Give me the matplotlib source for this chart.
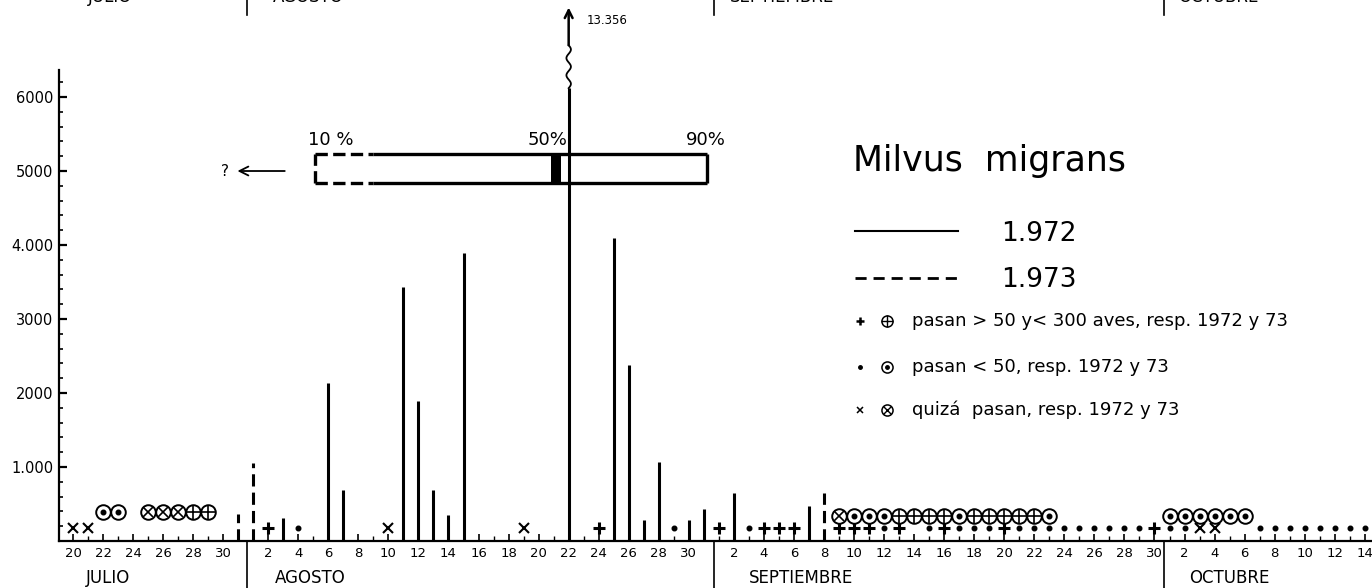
import numpy as np
import matplotlib
matplotlib.use('Agg')
from matplotlib import pyplot as plt
from matplotlib.ticker import MultipleLocator

# dia de campaña: julio d -> d, agosto -> 31 + d, septiembre -> 62 + d, octubre -> 92 + d
INICIO_MES = {'jul': 0, 'ago': 31, 'sep': 62, 'oct': 92}


def dia(mes, d):
    return INICIO_MES[mes] + d


def dias(lista):
    return [dia(m, d) for m, d in lista]


# barras 1972 (linea continua)
barras_1972 = [('ago', 3), ('ago', 6), ('ago', 7), ('ago', 11), ('ago', 12), ('ago', 13),
               ('ago', 14), ('ago', 15), ('ago', 22), ('ago', 25), ('ago', 26), ('ago', 27),
               ('ago', 28), ('ago', 30), ('ago', 31), ('sep', 2), ('sep', 7)]
aves_1972 = [310, 2130, 690, 3430, 1890, 690, 350, 3890, 13356, 4090, 2380, 285,
             1070, 285, 430, 645, 470]

# barras 1973 (linea de trazos)
barras_1973 = [('jul', 31), ('ago', 1), ('sep', 8)]
aves_1973 = [360, 1050, 645]

# simbolos 1972
mas_1972 = [('ago', 2), ('ago', 24), ('sep', 1), ('sep', 4), ('sep', 5), ('sep', 6), ('sep', 9),
            ('sep', 10), ('sep', 11), ('sep', 13), ('sep', 16), ('sep', 20), ('sep', 30)]
punto_1972 = [('ago', 4), ('ago', 29), ('sep', 3), ('sep', 12), ('sep', 15), ('sep', 17),
              ('sep', 18), ('sep', 19), ('sep', 21), ('sep', 22), ('sep', 23), ('sep', 24),
              ('sep', 25), ('sep', 26), ('sep', 27), ('sep', 28), ('sep', 29), ('oct', 1),
              ('oct', 2), ('oct', 7), ('oct', 8), ('oct', 9), ('oct', 10), ('oct', 11),
              ('oct', 12), ('oct', 13), ('oct', 14)]
cruz_1972 = [('jul', 20), ('jul', 21), ('ago', 10), ('ago', 19), ('oct', 3), ('oct', 4)]

# simbolos 1973 (en circulo)
circ_mas_1973 = [('jul', 28), ('jul', 29), ('sep', 13), ('sep', 14), ('sep', 15), ('sep', 16),
                 ('sep', 18), ('sep', 19), ('sep', 20), ('sep', 21), ('sep', 22)]
circ_punto_1973 = [('jul', 22), ('jul', 23), ('sep', 10), ('sep', 11), ('sep', 12), ('sep', 17),
                   ('sep', 23), ('oct', 1), ('oct', 2), ('oct', 3), ('oct', 4), ('oct', 5), ('oct', 6)]
circ_cruz_1973 = [('jul', 25), ('jul', 26), ('jul', 27), ('sep', 9)]

# etiquetas del eje x
ticks_x = [('jul', d) for d in range(20, 31, 2)] + [('ago', d) for d in range(2, 31, 2)] + \
          [('sep', d) for d in range(2, 31, 2)] + [('oct', d) for d in range(2, 15, 2)]
ticks_y = [1000, 2000, 3000, 4000, 5000, 6000]
etiquetas_y = ['1.000', '2000', '3000', '4.000', '5000', '6000']
meses = ['JULIO', 'AGOSTO', 'SEPTIEMBRE', 'OCTUBRE']

# percentiles del paso (10 %, 50 %, 90 %)
p10, p50, p90 = 36.1, 52.2, 62.2

ANCHO, ALTO = 1372, 588


def fx(px):
    return px / ANCHO


def fy(py):
    return 1 - py / ALTO


fig = plt.figure(figsize=(ANCHO / 100, ALTO / 100), dpi=100)
ax = fig.add_axes([fx(59), 1 - 541 / ALTO, fx(1372 - 59), (541 - 70) / ALTO])
ax.set_xlim(19.07, 106.48)
ax.set_ylim(0, 6365)

for s in ['top', 'right']:
    ax.spines[s].set_visible(False)
ax.spines['left'].set_linewidth(1.6)
ax.spines['bottom'].set_linewidth(1.6)

# barras
corte = 6120
x72 = dias(barras_1972)
ax.vlines(x72, 0, [min(v, corte) for v in aves_1972], colors='k', lw=2.2, clip_on=False)
ax.vlines(dias(barras_1973), 0, aves_1973, colors='k', lw=2.2, linestyles=(0, (4, 2)))

# barra que se sale de la escala: linea ondulada y flecha
for x, v in zip(x72, aves_1972):
    if v > corte:
        yy = np.linspace(corte, 6700, 60)
        ax.plot(x + 0.15 * np.sin((yy - corte) / 580 * 2.5 * 2 * np.pi), yy, color='k', lw=1.3, clip_on=False)
        ax.annotate('', xy=(x, 7210), xytext=(x, 6700), annotation_clip=False,
                    arrowprops=dict(arrowstyle='->', lw=1.8, color='k', mutation_scale=14, shrinkA=0, shrinkB=0))
        ax.text(x + 1.2, 7040, f'{v:,}'.replace(',', '.'), fontsize=8.5, va='center', ha='left')

# simbolos 1972
nivel = 175
ax.plot(dias(mas_1972), [nivel] * len(mas_1972), '+', color='k', ms=8, mew=2.2, clip_on=False)
ax.plot(dias(punto_1972), [nivel] * len(punto_1972), 'o', color='k', ms=3.3)
ax.plot(dias(cruz_1972), [nivel] * len(cruz_1972), 'x', color='k', ms=6.5, mew=1.5)


# simbolos 1973 en circulo
def nivel_circ(x):
    return 390 if x < 32 else 340


for lista, interior, ms_in, mew_in in [(circ_mas_1973, '+', 10.5, 1.2),
                                       (circ_punto_1973, 'o', 3.3, 1.0),
                                       (circ_cruz_1973, 'x', 7.2, 1.2)]:
    xs = dias(lista)
    ys = [nivel_circ(x) for x in xs]
    ax.plot(xs, ys, 'o', mfc='white', mec='k', ms=10.5, mew=1.4)
    ax.plot(xs, ys, interior, color='k', ms=ms_in, mew=mew_in)

# caja de percentiles
y0, y1 = 4840, 5230
kw = dict(color='k', lw=2.4, solid_capstyle='butt')
ax.plot([p10, p10], [y0, y1], ls='--', **kw)
ax.plot([p10, 40.0], [y1, y1], ls='--', **kw)
ax.plot([p10, 40.0], [y0, y0], ls='--', **kw)
ax.plot([40.0, p90], [y1, y1], **kw)
ax.plot([40.0, p90], [y0, y0], **kw)
ax.plot([p90, p90], [y0, y1], **kw)
ax.fill_between([p50 - 0.38, p50 + 0.32], y0, y1, color='k', lw=0)
ax.text(p10 - 0.45, 5420, '10 %', fontsize=13, ha='left', va='center')
ax.text(p50 + 0.7, 5420, '50%', fontsize=13, ha='right', va='center')
ax.text(p90 - 1.4, 5420, '90%', fontsize=13, ha='left', va='center')
ax.annotate('', xy=(30.95, 5000), xytext=(34.1, 5000),
            arrowprops=dict(arrowstyle='->', lw=1.3, color='k', mutation_scale=16, shrinkA=0, shrinkB=0))
ax.text(30.1, 5000, '?', fontsize=11, ha='center', va='center')

# ejes
ax.set_xticks(dias(ticks_x), [str(d) for m, d in ticks_x])
ax.xaxis.set_minor_locator(MultipleLocator(1))
ax.tick_params(axis='x', which='major', direction='in', length=5, width=1.2, labelsize=9.5, pad=4)
ax.tick_params(axis='x', which='minor', direction='in', length=3.5, width=1.0)
ax.set_yticks(ticks_y, etiquetas_y)
ax.yaxis.set_minor_locator(MultipleLocator(200))
ax.tick_params(axis='y', which='major', direction='in', length=6, width=1.6, labelsize=10.5, pad=4)
ax.tick_params(axis='y', which='minor', direction='in', length=3, width=1.2)

# separadores de meses y nombres (abajo y, cortados, arriba)
limites = [31.6, 62.7, 92.6]
for x in limites:
    ax.plot([x, x], [0, -640], color='k', lw=1.2, clip_on=False)
    ax.plot([x, x], [7311, 7110], color='k', lw=1.2, clip_on=False)
for x, nombre in zip([22.3, 35.8, 68.5, 97.0], meses):
    ax.text(x, -500, nombre, fontsize=12, ha='center', va='center')
for x, nombre in zip([21.0, 33.3, 63.7, 93.6], meses):
    ax.text(x, 7225, nombre, fontsize=12, ha='left', va='bottom')

# leyenda
fig.text(fx(853), fy(161), 'Milvus  migrans', fontsize=25, ha='left', va='center')
ax.plot([fx(855), fx(958)], [fy(231), fy(231)], color='k', lw=1.5, transform=fig.transFigure, clip_on=False)
ax.plot([fx(855), fx(958)], [fy(278), fy(278)], color='k', lw=2.0, ls=(0, (4, 2.5)),
        transform=fig.transFigure, clip_on=False)
fig.text(fx(1001), fy(234), '1.972', fontsize=19, ha='left', va='center')
fig.text(fx(1001), fy(280), '1.973', fontsize=19, ha='left', va='center')

filas = [(321, '+', '+', 'pasan > 50 y< 300 aves, resp. 1972 y 73'),
         (367, 'o', 'o', 'pasan < 50, resp. 1972 y 73'),
         (410, 'x', 'x', 'quizá  pasan, resp. 1972 y 73')]
for py, m1, m2, texto in filas:
    if m1 == '+':
        ax.plot(fx(860), fy(py), '+', color='k', ms=6, mew=1.8, transform=fig.transFigure, clip_on=False)
    elif m1 == 'o':
        ax.plot(fx(860), fy(py), 'o', color='k', ms=2.5, transform=fig.transFigure, clip_on=False)
    else:
        ax.plot(fx(860), fy(py), 'x', color='k', ms=4.5, mew=1.1, transform=fig.transFigure, clip_on=False)
    ax.plot(fx(887), fy(py), 'o', mfc='white', mec='k', ms=8, mew=1.1, transform=fig.transFigure, clip_on=False)
    ms_in = {'+': 8, 'o': 2.5, 'x': 5.5}[m2]
    ax.plot(fx(887), fy(py), m2, color='k', ms=ms_in, mew=1.0, transform=fig.transFigure, clip_on=False)
    fig.text(fx(912), fy(py), texto, fontsize=13, ha='left', va='center')

fig.savefig('out.png', dpi=100)
